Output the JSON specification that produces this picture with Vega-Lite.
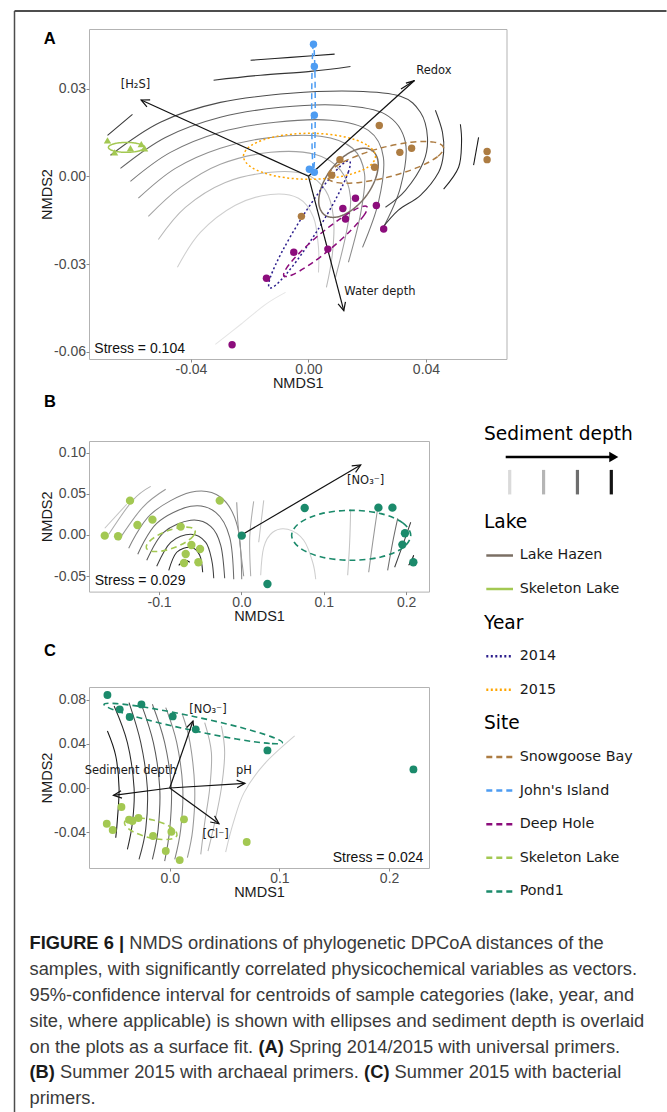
{
"$schema": "https://vega.github.io/schema/vega-lite/v6.json",
"background": "white",
"padding": {"left": 13, "top": 8, "right": 0, "bottom": 0},
"bounds": "flush",
"align": "each",
"columns": 2,
"spacing": {"row": 0, "column": 44.7},
"config": {
  "view": {"stroke": "#b3b3b3", "strokeWidth": 1},
  "axis": {"grid": false, "domain": false, "tickColor": "#8a8a8a", "tickSize": 3, "labelFont": "Liberation Sans", "labelFontSize": 14, "labelColor": "#4a4a4a", "labelPadding": 0.5, "labelFlush": false, "labelOverlap": false, "titleFont": "Liberation Sans", "titleFontSize": 14.5, "titleFontWeight": "normal", "titleColor": "#1a1a1a"},
  "axisX": {"titlePadding": 0, "minExtent": 17.6, "maxExtent": 17.6},
  "axisY": {"titlePadding": 1, "minExtent": 34, "maxExtent": 34},
  "title": {"font": "Liberation Sans", "fontSize": 16.5, "fontWeight": "bold", "anchor": "start", "frame": "group", "baseline": "alphabetic", "color": "#000000"}
},
"datasets": {
  "contA": [
    {"curve":"a0","level":0.5,"x":-0.0317,"y":-0.0575},{"curve":"a0","level":0.5,"x":-0.0231,"y":-0.0507},{"curve":"a0","level":0.5,"x":-0.0146,"y":-0.0438},{"curve":"a0","level":0.5,"x":-0.0078,"y":-0.0397},
    {"curve":"a1","level":1.5,"x":-0.0446,"y":-0.0311},{"curve":"a1","level":1.5,"x":-0.0368,"y":-0.0192},{"curve":"a1","level":1.5,"x":-0.0249,"y":-0.0099},{"curve":"a1","level":1.5,"x":-0.0129,"y":-0.0062},{"curve":"a1","level":1.5,"x":-0.0034,"y":-0.0075},{"curve":"a1","level":1.5,"x":0.0017,"y":-0.0140},{"curve":"a1","level":1.5,"x":0.0034,"y":-0.0243},{"curve":"a1","level":1.5,"x":0.0034,"y":-0.0329},
    {"curve":"a2","level":2.5,"x":-0.0511,"y":-0.0216},{"curve":"a2","level":2.5,"x":-0.0419,"y":-0.0106},{"curve":"a2","level":2.5,"x":-0.0283,"y":-0.0021},{"curve":"a2","level":2.5,"x":-0.0129,"y":0.0014},{"curve":"a2","level":2.5,"x":-0.0010,"y":0.0007},{"curve":"a2","level":2.5,"x":0.0058,"y":-0.0048},{"curve":"a2","level":2.5,"x":0.0085,"y":-0.0140},{"curve":"a2","level":2.5,"x":0.0082,"y":-0.0260},{"curve":"a2","level":2.5,"x":0.0061,"y":-0.0380},
    {"curve":"a3","level":3.5,"x":-0.0545,"y":-0.0137},{"curve":"a3","level":3.5,"x":-0.0436,"y":-0.0038},{"curve":"a3","level":3.5,"x":-0.0300,"y":0.0041},{"curve":"a3","level":3.5,"x":-0.0129,"y":0.0082},{"curve":"a3","level":3.5,"x":0.0024,"y":0.0075},{"curve":"a3","level":3.5,"x":0.0109,"y":0.0021},{"curve":"a3","level":3.5,"x":0.0143,"y":-0.0072},{"curve":"a3","level":3.5,"x":0.0129,"y":-0.0192},{"curve":"a3","level":3.5,"x":0.0092,"y":-0.0346},
    {"curve":"a4","level":4.5,"x":-0.0579,"y":-0.0075},{"curve":"a4","level":4.5,"x":-0.0453,"y":0.0027},{"curve":"a4","level":4.5,"x":-0.0300,"y":0.0096},{"curve":"a4","level":4.5,"x":-0.0129,"y":0.0133},{"curve":"a4","level":4.5,"x":0.0041,"y":0.0137},{"curve":"a4","level":4.5,"x":0.0150,"y":0.0096},{"curve":"a4","level":4.5,"x":0.0191,"y":0.0007},{"curve":"a4","level":4.5,"x":0.0177,"y":-0.0130},{"curve":"a4","level":4.5,"x":0.0136,"y":-0.0294},
    {"curve":"a5","level":5.5,"x":-0.0606,"y":-0.0017},{"curve":"a5","level":5.5,"x":-0.0470,"y":0.0082},{"curve":"a5","level":5.5,"x":-0.0300,"y":0.0151},{"curve":"a5","level":5.5,"x":-0.0112,"y":0.0185},{"curve":"a5","level":5.5,"x":0.0075,"y":0.0192},{"curve":"a5","level":5.5,"x":0.0204,"y":0.0157},{"curve":"a5","level":5.5,"x":0.0255,"y":0.0065},{"curve":"a5","level":5.5,"x":0.0238,"y":-0.0089},{"curve":"a5","level":5.5,"x":0.0184,"y":-0.0243},
    {"curve":"a6","level":6.5,"x":-0.0640,"y":0.0027},{"curve":"a6","level":6.5,"x":-0.0487,"y":0.0133},{"curve":"a6","level":6.5,"x":-0.0300,"y":0.0202},{"curve":"a6","level":6.5,"x":-0.0095,"y":0.0236},{"curve":"a6","level":6.5,"x":0.0109,"y":0.0243},{"curve":"a6","level":6.5,"x":0.0262,"y":0.0212},{"curve":"a6","level":6.5,"x":0.0330,"y":0.0116},{"curve":"a6","level":6.5,"x":0.0313,"y":-0.0038},{"curve":"a6","level":6.5,"x":0.0255,"y":-0.0175},
    {"curve":"a7","level":7.5,"x":-0.0674,"y":0.0072},{"curve":"a7","level":7.5,"x":-0.0504,"y":0.0185},{"curve":"a7","level":7.5,"x":-0.0300,"y":0.0253},{"curve":"a7","level":7.5,"x":-0.0061,"y":0.0284},{"curve":"a7","level":7.5,"x":0.0160,"y":0.0291},{"curve":"a7","level":7.5,"x":0.0313,"y":0.0274},{"curve":"a7","level":7.5,"x":0.0381,"y":0.0219},{"curve":"a7","level":7.5,"x":0.0405,"y":0.0133},{"curve":"a7","level":7.5,"x":0.0391,"y":0.0048},{"curve":"a7","level":7.5,"x":0.0330,"y":-0.0048},{"curve":"a7","level":7.5,"x":0.0262,"y":-0.0106},
    {"curve":"a8a","level":8.5,"x":-0.0684,"y":0.0140},{"curve":"a8a","level":8.5,"x":-0.0599,"y":0.0212},
    {"curve":"a8b","level":8.5,"x":-0.0323,"y":0.0329},{"curve":"a8b","level":8.5,"x":-0.0163,"y":0.0346},{"curve":"a8b","level":8.5,"x":0.0007,"y":0.0359},{"curve":"a8b","level":8.5,"x":0.0143,"y":0.0376},
    {"curve":"a8c","level":8.5,"x":0.0432,"y":0.0226},{"curve":"a8c","level":8.5,"x":0.0456,"y":0.0151},{"curve":"a8c","level":8.5,"x":0.0460,"y":0.0082},{"curve":"a8c","level":8.5,"x":0.0443,"y":0.0014},{"curve":"a8c","level":8.5,"x":0.0381,"y":-0.0065},{"curve":"a8c","level":8.5,"x":0.0306,"y":-0.0116},{"curve":"a8c","level":8.5,"x":0.0245,"y":-0.0185},
    {"curve":"a9a","level":9.3,"x":-0.0197,"y":0.0397},{"curve":"a9a","level":9.3,"x":-0.0061,"y":0.0407},{"curve":"a9a","level":9.3,"x":0.0089,"y":0.0418},
    {"curve":"a9b","level":9.3,"x":0.0517,"y":0.0178},{"curve":"a9b","level":9.3,"x":0.0521,"y":0.0116},{"curve":"a9b","level":9.3,"x":0.0511,"y":0.0031},{"curve":"a9b","level":9.3,"x":0.0460,"y":-0.0044},
    {"curve":"a10","level":10,"x":0.0579,"y":0.0133},{"curve":"a10","level":10,"x":0.0562,"y":0.0038}
  ],
  "ellA": [
    {"grp":"Lake Hazen","kind":"lake","x":0.02179,"y":0.00873},{"grp":"Lake Hazen","kind":"lake","x":0.02369,"y":0.00500},{"grp":"Lake Hazen","kind":"lake","x":0.02288,"y":-0.00065},{"grp":"Lake Hazen","kind":"lake","x":0.01961,"y":-0.00674},{"grp":"Lake Hazen","kind":"lake","x":0.01471,"y":-0.01160},{"grp":"Lake Hazen","kind":"lake","x":0.00953,"y":-0.01396},{"grp":"Lake Hazen","kind":"lake","x":0.00545,"y":-0.01318},{"grp":"Lake Hazen","kind":"lake","x":0.00354,"y":-0.00945},{"grp":"Lake Hazen","kind":"lake","x":0.00436,"y":-0.00380},{"grp":"Lake Hazen","kind":"lake","x":0.00763,"y":0.00229},{"grp":"Lake Hazen","kind":"lake","x":0.01253,"y":0.00715},{"grp":"Lake Hazen","kind":"lake","x":0.01770,"y":0.00951},
    {"grp":"Skeleton Lake","kind":"lake","x":-0.0559,"y":0.0099},{"grp":"Skeleton Lake","kind":"lake","x":-0.05672,"y":0.01075},{"grp":"Skeleton Lake","kind":"lake","x":-0.05895,"y":0.01137},{"grp":"Skeleton Lake","kind":"lake","x":-0.0620,"y":0.0116},{"grp":"Skeleton Lake","kind":"lake","x":-0.06505,"y":0.01137},{"grp":"Skeleton Lake","kind":"lake","x":-0.06728,"y":0.01075},{"grp":"Skeleton Lake","kind":"lake","x":-0.0681,"y":0.0099},{"grp":"Skeleton Lake","kind":"lake","x":-0.06728,"y":0.00905},{"grp":"Skeleton Lake","kind":"lake","x":-0.06505,"y":0.00843},{"grp":"Skeleton Lake","kind":"lake","x":-0.0620,"y":0.0082},{"grp":"Skeleton Lake","kind":"lake","x":-0.05895,"y":0.00843},{"grp":"Skeleton Lake","kind":"lake","x":-0.05672,"y":0.00905},
    {"grp":"2014","kind":"year","x":0.01396,"y":0.00530},{"grp":"2014","kind":"year","x":0.01358,"y":0.00147},{"grp":"2014","kind":"year","x":0.00963,"y":-0.00715},{"grp":"2014","kind":"year","x":0.00323,"y":-0.01824},{"grp":"2014","kind":"year","x":-0.00398,"y":-0.02888},{"grp":"2014","kind":"year","x":-0.01001,"y":-0.03617},{"grp":"2014","kind":"year","x":-0.01328,"y":-0.03816},{"grp":"2014","kind":"year","x":-0.01290,"y":-0.03433},{"grp":"2014","kind":"year","x":-0.00895,"y":-0.02570},{"grp":"2014","kind":"year","x":-0.00255,"y":-0.01461},{"grp":"2014","kind":"year","x":0.00466,"y":-0.00397},{"grp":"2014","kind":"year","x":0.01069,"y":0.00332},
    {"grp":"2015","kind":"year","x":0.02281,"y":0.00684},{"grp":"2015","kind":"year","x":0.01981,"y":0.01078},{"grp":"2015","kind":"year","x":0.01157,"y":0.01366},{"grp":"2015","kind":"year","x":0.00034,"y":0.01472},{"grp":"2015","kind":"year","x":-0.01089,"y":0.01366},{"grp":"2015","kind":"year","x":-0.01913,"y":0.01078},{"grp":"2015","kind":"year","x":-0.02213,"y":0.00684},{"grp":"2015","kind":"year","x":-0.01913,"y":0.00291},{"grp":"2015","kind":"year","x":-0.01089,"y":0.00003},{"grp":"2015","kind":"year","x":0.00034,"y":-0.00103},{"grp":"2015","kind":"year","x":0.01157,"y":0.00003},{"grp":"2015","kind":"year","x":0.01981,"y":0.00291},
    {"grp":"Snowgoose Bay","kind":"site","x":0.04596,"y":0.00992},{"grp":"Snowgoose Bay","kind":"site","x":0.04395,"y":0.00674},{"grp":"Snowgoose Bay","kind":"site","x":0.03721,"y":0.00305},{"grp":"Snowgoose Bay","kind":"site","x":0.02751,"y":-0.00017},{"grp":"Snowgoose Bay","kind":"site","x":0.01746,"y":-0.00209},{"grp":"Snowgoose Bay","kind":"site","x":0.00977,"y":-0.00216},{"grp":"Snowgoose Bay","kind":"site","x":0.00647,"y":-0.00034},{"grp":"Snowgoose Bay","kind":"site","x":0.00848,"y":0.00281},{"grp":"Snowgoose Bay","kind":"site","x":0.01525,"y":0.00650},{"grp":"Snowgoose Bay","kind":"site","x":0.02495,"y":0.00975},{"grp":"Snowgoose Bay","kind":"site","x":0.03500,"y":0.01167},{"grp":"Snowgoose Bay","kind":"site","x":0.04266,"y":0.01170},
    {"grp":"John's Island","kind":"site","x":0.0023,"y":0.0235},{"grp":"John's Island","kind":"site","x":0.00222,"y":0.03425},{"grp":"John's Island","kind":"site","x":0.0020,"y":0.04212},{"grp":"John's Island","kind":"site","x":0.0017,"y":0.0450},{"grp":"John's Island","kind":"site","x":0.0014,"y":0.04212},{"grp":"John's Island","kind":"site","x":0.00118,"y":0.03425},{"grp":"John's Island","kind":"site","x":0.0011,"y":0.0235},{"grp":"John's Island","kind":"site","x":0.00118,"y":0.01275},{"grp":"John's Island","kind":"site","x":0.0014,"y":0.00488},{"grp":"John's Island","kind":"site","x":0.0017,"y":0.0020},{"grp":"John's Island","kind":"site","x":0.0020,"y":0.00488},{"grp":"John's Island","kind":"site","x":0.00222,"y":0.01275},
    {"grp":"Deep Hole","kind":"site","x":0.01991,"y":-0.01040},{"grp":"Deep Hole","kind":"site","x":0.01900,"y":-0.01318},{"grp":"Deep Hole","kind":"site","x":0.01454,"y":-0.01838},{"grp":"Deep Hole","kind":"site","x":0.00776,"y":-0.02461},{"grp":"Deep Hole","kind":"site","x":0.00041,"y":-0.03022},{"grp":"Deep Hole","kind":"site","x":-0.00545,"y":-0.03368},{"grp":"Deep Hole","kind":"site","x":-0.00834,"y":-0.03409},{"grp":"Deep Hole","kind":"site","x":-0.00742,"y":-0.03131},{"grp":"Deep Hole","kind":"site","x":-0.00296,"y":-0.02611},{"grp":"Deep Hole","kind":"site","x":0.00381,"y":-0.01988},{"grp":"Deep Hole","kind":"site","x":0.01117,"y":-0.01427},{"grp":"Deep Hole","kind":"site","x":0.01702,"y":-0.01081}
  ],
  "arrA": [
    {"vec":"H2S","part":"shaft","x":0,"y":0},{"vec":"H2S","part":"shaft","x":-0.05695,"y":0.02611},
    {"vec":"H2S","part":"head","x":-0.05498,"y":0.02379},{"vec":"H2S","part":"head","x":-0.05695,"y":0.02611},{"vec":"H2S","part":"head","x":-0.05389,"y":0.02615},
    {"vec":"Redox","part":"shaft","x":0,"y":0},{"vec":"Redox","part":"shaft","x":0.03609,"y":0.03276},
    {"vec":"Redox","part":"head","x":0.03316,"y":0.03186},{"vec":"Redox","part":"head","x":0.03609,"y":0.03276},{"vec":"Redox","part":"head","x":0.03149,"y":0.02991},
    {"vec":"Water","part":"shaft","x":0,"y":0},{"vec":"Water","part":"shaft","x":0.01202,"y":-0.04596},
    {"vec":"Water","part":"head","x":0.01258,"y":-0.04295},{"vec":"Water","part":"head","x":0.01202,"y":-0.04596},{"vec":"Water","part":"head","x":0.01008,"y":-0.04361}
  ],
  "ptsA": [
    {"site":"John's Island","x":0.0017,"y":0.0452},{"site":"John's Island","x":0.0020,"y":0.0376},{"site":"John's Island","x":0.0020,"y":0.0209},{"site":"John's Island","x":0.0003,"y":0.0024},{"site":"John's Island","x":0.0020,"y":0.0014},
    {"site":"Snowgoose Bay","x":0.0241,"y":0.0174},{"site":"Snowgoose Bay","x":0.0311,"y":0.0082},{"site":"Snowgoose Bay","x":0.0351,"y":0.0096},{"site":"Snowgoose Bay","x":0.0608,"y":0.0085},{"site":"Snowgoose Bay","x":0.0608,"y":0.0057},{"site":"Snowgoose Bay","x":0.0107,"y":0.0057},{"site":"Snowgoose Bay","x":0.0225,"y":0.0031},{"site":"Snowgoose Bay","x":0.0079,"y":0.0004},{"site":"Snowgoose Bay","x":-0.0024,"y":-0.0137},
    {"site":"Deep Hole","x":0.0160,"y":-0.0075},{"site":"Deep Hole","x":0.0117,"y":-0.0110},{"site":"Deep Hole","x":0.0126,"y":-0.0146},{"site":"Deep Hole","x":0.0231,"y":-0.0100},{"site":"Deep Hole","x":0.0256,"y":-0.0180},{"site":"Deep Hole","x":-0.0050,"y":-0.0260},{"site":"Deep Hole","x":0.0066,"y":-0.0249},{"site":"Deep Hole","x":-0.0143,"y":-0.0349},{"site":"Deep Hole","x":-0.0260,"y":-0.0576},
    {"site":"Skeleton Lake","x":-0.0684,"y":0.0123},{"site":"Skeleton Lake","x":-0.0660,"y":0.0082},{"site":"Skeleton Lake","x":-0.0606,"y":0.0096},{"site":"Skeleton Lake","x":-0.0569,"y":0.0110},{"site":"Skeleton Lake","x":-0.0558,"y":0.0096}
  ],
  "labA": [
    {"label":"[H₂S]","x":-0.0589,"y":0.0312},{"label":"Redox","x":0.0427,"y":0.0362},{"label":"Water depth","x":0.0243,"y":-0.0397}
  ],
  "stressA": [{"label":"Stress = 0.104","x":-0.0729,"y":-0.0591}],
  "contB": [
    {"curve":"b1","level":10,"x":-0.0761,"y":-0.0369},{"curve":"b1","level":10,"x":-0.0688,"y":-0.0308},{"curve":"b1","level":10,"x":-0.0627,"y":-0.0332},
    {"curve":"b2","level":9,"x":-0.0882,"y":-0.0430},{"curve":"b2","level":9,"x":-0.0785,"y":-0.0210},{"curve":"b2","level":9,"x":-0.0615,"y":-0.0150},{"curve":"b2","level":9,"x":-0.0506,"y":-0.0247},{"curve":"b2","level":9,"x":-0.0470,"y":-0.0454},
    {"curve":"b3","level":8,"x":-0.1028,"y":-0.0381},{"curve":"b3","level":8,"x":-0.0858,"y":-0.0089},{"curve":"b3","level":8,"x":-0.0615,"y":0.0009},{"curve":"b3","level":8,"x":-0.0433,"y":-0.0089},{"curve":"b3","level":8,"x":-0.0360,"y":-0.0308},{"curve":"b3","level":8,"x":-0.0336,"y":-0.0527},
    {"curve":"b4","level":7,"x":-0.1149,"y":-0.0308},{"curve":"b4","level":7,"x":-0.0943,"y":0.0033},{"curve":"b4","level":7,"x":-0.0615,"y":0.0179},{"curve":"b4","level":7,"x":-0.0373,"y":0.0106},{"curve":"b4","level":7,"x":-0.0251,"y":-0.0125},{"curve":"b4","level":7,"x":-0.0203,"y":-0.0527},
    {"curve":"b5","level":6,"x":-0.1258,"y":-0.0235},{"curve":"b5","level":6,"x":-0.1028,"y":0.0142},{"curve":"b5","level":6,"x":-0.0615,"y":0.0349},{"curve":"b5","level":6,"x":-0.0312,"y":0.0276},{"curve":"b5","level":6,"x":-0.0142,"y":-0.0028},{"curve":"b5","level":6,"x":-0.0093,"y":-0.0539},
    {"curve":"b6","level":5,"x":-0.1368,"y":-0.0162},{"curve":"b6","level":5,"x":-0.1101,"y":0.0252},{"curve":"b6","level":5,"x":-0.0615,"y":0.0519},{"curve":"b6","level":5,"x":-0.0251,"y":0.0459},{"curve":"b6","level":5,"x":-0.0045,"y":0.0094},{"curve":"b6","level":5,"x":0.0004,"y":-0.0539},
    {"curve":"b7","level":4,"x":-0.1489,"y":-0.0064},{"curve":"b7","level":4,"x":-0.1198,"y":0.0337},{"curve":"b7","level":4,"x":-0.0919,"y":0.0556},
    {"curve":"b8","level":3,"x":-0.1610,"y":0.0009},{"curve":"b8","level":3,"x":-0.1319,"y":0.0422},{"curve":"b8","level":3,"x":-0.1101,"y":0.0592},
    {"curve":"b9","level":2,"x":-0.1659,"y":0.0082},{"curve":"b9","level":2,"x":-0.1392,"y":0.0374},
    {"curve":"v1","level":4,"x":-0.0057,"y":0.0398},{"curve":"v1","level":4,"x":-0.0033,"y":0.0033},{"curve":"v1","level":4,"x":0.0028,"y":-0.0502},
    {"curve":"v2","level":3,"x":0.0149,"y":0.0410},{"curve":"v2","level":3,"x":0.0101,"y":-0.0028},{"curve":"v2","level":3,"x":0.0113,"y":-0.0502},
    {"curve":"v3","level":2,"x":0.0271,"y":0.0422},{"curve":"v3","level":2,"x":0.0210,"y":-0.0089},
    {"curve":"u1","level":1.5,"x":0.0234,"y":-0.0490},{"curve":"u1","level":1.5,"x":0.0271,"y":-0.0150},{"curve":"u1","level":1.5,"x":0.0380,"y":0.0033},{"curve":"u1","level":1.5,"x":0.0562,"y":0.0069},{"curve":"u1","level":1.5,"x":0.0756,"y":-0.0064},{"curve":"u1","level":1.5,"x":0.0865,"y":-0.0332},{"curve":"u1","level":1.5,"x":0.0902,"y":-0.0539},
    {"curve":"r1","level":2,"x":0.1290,"y":-0.0490},{"curve":"r1","level":2,"x":0.1314,"y":-0.0089},{"curve":"r1","level":2,"x":0.1326,"y":0.0313},
    {"curve":"r2","level":4,"x":0.1545,"y":-0.0454},{"curve":"r2","level":4,"x":0.1594,"y":-0.0089},{"curve":"r2","level":4,"x":0.1654,"y":0.0325},
    {"curve":"r3","level":6,"x":0.1775,"y":-0.0430},{"curve":"r3","level":6,"x":0.1836,"y":-0.0089},{"curve":"r3","level":6,"x":0.1897,"y":0.0203},
    {"curve":"r4","level":8,"x":0.1860,"y":-0.0393},{"curve":"r4","level":8,"x":0.1970,"y":-0.0089},{"curve":"r4","level":8,"x":0.2055,"y":0.0155},
    {"curve":"r5","level":10,"x":0.2030,"y":-0.0369},{"curve":"r5","level":10,"x":0.2067,"y":-0.0308},{"curve":"r5","level":10,"x":0.2091,"y":-0.0247}
  ],
  "ellB": [
    {"grp":"Skeleton Lake","kind":"site","x":-0.0562,"y":0.0055},{"grp":"Skeleton Lake","kind":"site","x":-0.0584,"y":-0.0011},{"grp":"Skeleton Lake","kind":"site","x":-0.0677,"y":-0.0088},{"grp":"Skeleton Lake","kind":"site","x":-0.0820,"y":-0.0156},{"grp":"Skeleton Lake","kind":"site","x":-0.0973,"y":-0.0196},{"grp":"Skeleton Lake","kind":"site","x":-0.1096,"y":-0.0197},{"grp":"Skeleton Lake","kind":"site","x":-0.1154,"y":-0.0159},{"grp":"Skeleton Lake","kind":"site","x":-0.1132,"y":-0.0094},{"grp":"Skeleton Lake","kind":"site","x":-0.1038,"y":-0.0017},{"grp":"Skeleton Lake","kind":"site","x":-0.0896,"y":0.0051},{"grp":"Skeleton Lake","kind":"site","x":-0.0742,"y":0.0090},{"grp":"Skeleton Lake","kind":"site","x":-0.0620,"y":0.0092},
    {"grp":"Pond1","kind":"site","x":0.2055,"y":-0.0004},{"grp":"Pond1","kind":"site","x":0.1958,"y":0.0148},{"grp":"Pond1","kind":"site","x":0.1694,"y":0.0260},{"grp":"Pond1","kind":"site","x":0.1333,"y":0.0300},{"grp":"Pond1","kind":"site","x":0.0972,"y":0.0260},{"grp":"Pond1","kind":"site","x":0.0708,"y":0.0148},{"grp":"Pond1","kind":"site","x":0.0610,"y":-0.0004},{"grp":"Pond1","kind":"site","x":0.0708,"y":-0.0156},{"grp":"Pond1","kind":"site","x":0.0972,"y":-0.0268},{"grp":"Pond1","kind":"site","x":0.1333,"y":-0.0308},{"grp":"Pond1","kind":"site","x":0.1694,"y":-0.0268},{"grp":"Pond1","kind":"site","x":0.1958,"y":-0.0156}
  ],
  "arrB": [
    {"vec":"NO3","part":"shaft","x":0,"y":0},{"vec":"NO3","part":"shaft","x":0.1448,"y":0.0852},
    {"vec":"NO3","part":"head","x":0.1339,"y":0.0841},{"vec":"NO3","part":"head","x":0.1448,"y":0.0852},{"vec":"NO3","part":"head","x":0.1386,"y":0.0762}
  ],
  "ptsB": [
    {"site":"Skeleton Lake","x":-0.1659,"y":-0.0008},{"site":"Skeleton Lake","x":-0.1497,"y":-0.0016},{"site":"Skeleton Lake","x":-0.1352,"y":0.0418},{"site":"Skeleton Lake","x":-0.1262,"y":0.0122},{"site":"Skeleton Lake","x":-0.1080,"y":0.0187},{"site":"Skeleton Lake","x":-0.0737,"y":0.0102},{"site":"Skeleton Lake","x":-0.0263,"y":0.0418},{"site":"Skeleton Lake","x":-0.0607,"y":-0.0122},{"site":"Skeleton Lake","x":-0.0502,"y":-0.0170},{"site":"Skeleton Lake","x":-0.0676,"y":-0.0231},{"site":"Skeleton Lake","x":-0.0697,"y":-0.0341},{"site":"Skeleton Lake","x":-0.0522,"y":-0.0332},
    {"site":"Pond1","x":0.0004,"y":-0.0008},{"site":"Pond1","x":0.0768,"y":0.0329},{"site":"Pond1","x":0.1663,"y":0.0333},{"site":"Pond1","x":0.1833,"y":0.0333},{"site":"Pond1","x":0.1985,"y":0.0021},{"site":"Pond1","x":0.1954,"y":-0.0117},{"site":"Pond1","x":0.2087,"y":-0.0332},{"site":"Pond1","x":0.0316,"y":-0.0596}
  ],
  "labB": [{"label":"[NO₃⁻]","x":0.1508,"y":0.0662}],
  "stressB": [{"label":"Stress = 0.029","x":-0.1780,"y":-0.0563}],
  "contC": [
    {"curve":"c1","level":10,"x":-0.0568,"y":0.0518},{"curve":"c1","level":10,"x":-0.0492,"y":0.0291},{"curve":"c1","level":10,"x":-0.0462,"y":0},{"curve":"c1","level":10,"x":-0.0477,"y":-0.0285},{"curve":"c1","level":10,"x":-0.0492,"y":-0.0452},
    {"curve":"c2","level":9,"x":-0.0507,"y":0.0745},{"curve":"c2","level":9,"x":-0.0386,"y":0.0412},{"curve":"c2","level":9,"x":-0.0325,"y":0},{"curve":"c2","level":9,"x":-0.0340,"y":-0.0315},{"curve":"c2","level":9,"x":-0.0386,"y":-0.0558},
    {"curve":"c3","level":8,"x":-0.0371,"y":0.0776},{"curve":"c3","level":8,"x":-0.0264,"y":0.0412},{"curve":"c3","level":8,"x":-0.0204,"y":0},{"curve":"c3","level":8,"x":-0.0219,"y":-0.0376},{"curve":"c3","level":8,"x":-0.0280,"y":-0.0648},
    {"curve":"c4","level":7,"x":-0.0264,"y":0.0776},{"curve":"c4","level":7,"x":-0.0149,"y":0.0412},{"curve":"c4","level":7,"x":-0.0091,"y":0},{"curve":"c4","level":7,"x":-0.0106,"y":-0.0376},{"curve":"c4","level":7,"x":-0.0158,"y":-0.0648},
    {"curve":"c5","level":6,"x":-0.0158,"y":0.0761},{"curve":"c5","level":6,"x":-0.0046,"y":0.0412},{"curve":"c5","level":6,"x":0.0015,"y":0},{"curve":"c5","level":6,"x":0.0000,"y":-0.0376},{"curve":"c5","level":6,"x":-0.0046,"y":-0.0664},
    {"curve":"c6","level":5,"x":-0.0036,"y":0.0730},{"curve":"c6","level":5,"x":0.0064,"y":0.0412},{"curve":"c6","level":5,"x":0.0119,"y":0},{"curve":"c6","level":5,"x":0.0100,"y":-0.0376},{"curve":"c6","level":5,"x":0.0046,"y":-0.0648},
    {"curve":"c7","level":4,"x":0.0115,"y":0.0670},{"curve":"c7","level":4,"x":0.0185,"y":0.0412},{"curve":"c7","level":4,"x":0.0228,"y":0},{"curve":"c7","level":4,"x":0.0210,"y":-0.0376},{"curve":"c7","level":4,"x":0.0161,"y":-0.0633},
    {"curve":"c8","level":3,"x":0.0319,"y":0.0594},{"curve":"c8","level":3,"x":0.0380,"y":0.0321},{"curve":"c8","level":3,"x":0.0365,"y":0},{"curve":"c8","level":3,"x":0.0319,"y":-0.0315},{"curve":"c8","level":3,"x":0.0283,"y":-0.0603},
    {"curve":"c9","level":2.5,"x":0.0471,"y":0.0564},{"curve":"c9","level":2.5,"x":0.0501,"y":0.0321},{"curve":"c9","level":2.5,"x":0.0471,"y":0},{"curve":"c9","level":2.5,"x":0.0410,"y":-0.0315},{"curve":"c9","level":2.5,"x":0.0349,"y":-0.0573},
    {"curve":"c10","level":1.5,"x":0.1139,"y":0.0473},{"curve":"c10","level":1.5,"x":0.0860,"y":0.0215},{"curve":"c10","level":1.5,"x":0.0678,"y":-0.0042},{"curve":"c10","level":1.5,"x":0.0580,"y":-0.0315},{"curve":"c10","level":1.5,"x":0.0510,"y":-0.0582}
  ],
  "ellC": [
    {"grp":"Pond1","kind":"site","x":0.1027,"y":0.0413},{"grp":"Pond1","kind":"site","x":0.0912,"y":0.0405},{"grp":"Pond1","kind":"site","x":0.0609,"y":0.0445},{"grp":"Pond1","kind":"site","x":0.0201,"y":0.0525},{"grp":"Pond1","kind":"site","x":-0.0204,"y":0.0619},{"grp":"Pond1","kind":"site","x":-0.0496,"y":0.0705},{"grp":"Pond1","kind":"site","x":-0.0599,"y":0.0760},{"grp":"Pond1","kind":"site","x":-0.0483,"y":0.0767},{"grp":"Pond1","kind":"site","x":-0.0180,"y":0.0727},{"grp":"Pond1","kind":"site","x":0.0228,"y":0.0648},{"grp":"Pond1","kind":"site","x":0.0633,"y":0.0554},{"grp":"Pond1","kind":"site","x":0.0924,"y":0.0467},
    {"grp":"Skeleton Lake","kind":"site","x":0.0066,"y":-0.0429},{"grp":"Skeleton Lake","kind":"site","x":0.0024,"y":-0.0461},{"grp":"Skeleton Lake","kind":"site","x":-0.0071,"y":-0.0468},{"grp":"Skeleton Lake","kind":"site","x":-0.0193,"y":-0.0449},{"grp":"Skeleton Lake","kind":"site","x":-0.0310,"y":-0.0409},{"grp":"Skeleton Lake","kind":"site","x":-0.0390,"y":-0.0359},{"grp":"Skeleton Lake","kind":"site","x":-0.0412,"y":-0.0311},{"grp":"Skeleton Lake","kind":"site","x":-0.0370,"y":-0.0279},{"grp":"Skeleton Lake","kind":"site","x":-0.0275,"y":-0.0272},{"grp":"Skeleton Lake","kind":"site","x":-0.0153,"y":-0.0291},{"grp":"Skeleton Lake","kind":"site","x":-0.0036,"y":-0.0331},{"grp":"Skeleton Lake","kind":"site","x":0.0044,"y":-0.0381}
  ],
  "arrC": [
    {"vec":"NO3","part":"shaft","x":0,"y":0},{"vec":"NO3","part":"shaft","x":0.0212,"y":0.0609},
    {"vec":"NO3","part":"head","x":0.0155,"y":0.0550},{"vec":"NO3","part":"head","x":0.0212,"y":0.0609},{"vec":"NO3","part":"head","x":0.0221,"y":0.0527},
    {"vec":"pH","part":"shaft","x":0,"y":0},{"vec":"pH","part":"shaft","x":0.0686,"y":0.0042},
    {"vec":"pH","part":"head","x":0.0610,"y":0.0072},{"vec":"pH","part":"head","x":0.0686,"y":0.0042},{"vec":"pH","part":"head","x":0.0615,"y":0.0003},
    {"vec":"Cl","part":"shaft","x":0,"y":0},{"vec":"Cl","part":"shaft","x":0.0449,"y":-0.0325},
    {"vec":"Cl","part":"head","x":0.0409,"y":-0.0253},{"vec":"Cl","part":"head","x":0.0449,"y":-0.0325},{"vec":"Cl","part":"head","x":0.0369,"y":-0.0309},
    {"vec":"Sed","part":"shaft","x":0,"y":0},{"vec":"Sed","part":"shaft","x":-0.0513,"y":-0.0067},
    {"vec":"Sed","part":"head","x":-0.0435,"y":-0.0092},{"vec":"Sed","part":"head","x":-0.0513,"y":-0.0067},{"vec":"Sed","part":"head","x":-0.0444,"y":-0.0024}
  ],
  "ptsC": [
    {"site":"Pond1","x":-0.0568,"y":0.0845},{"site":"Pond1","x":-0.0456,"y":0.0715},{"site":"Pond1","x":-0.0365,"y":0.0645},{"site":"Pond1","x":-0.0258,"y":0.0760},{"site":"Pond1","x":0.0027,"y":0.0651},{"site":"Pond1","x":0.0237,"y":0.0533},{"site":"Pond1","x":0.0891,"y":0.0342},{"site":"Pond1","x":0.2222,"y":0.0169},
    {"site":"Skeleton Lake","x":-0.0440,"y":-0.0173},{"site":"Skeleton Lake","x":-0.0574,"y":-0.0325},{"site":"Skeleton Lake","x":-0.0520,"y":-0.0382},{"site":"Skeleton Lake","x":-0.0371,"y":-0.0288},{"site":"Skeleton Lake","x":-0.0340,"y":-0.0300},{"site":"Skeleton Lake","x":-0.0285,"y":-0.0273},{"site":"Skeleton Lake","x":0.0130,"y":-0.0285},{"site":"Skeleton Lake","x":-0.0152,"y":-0.0436},{"site":"Skeleton Lake","x":0.0015,"y":-0.0397},{"site":"Skeleton Lake","x":-0.0036,"y":-0.0573},{"site":"Skeleton Lake","x":0.0091,"y":-0.0655},{"site":"Skeleton Lake","x":0.0702,"y":-0.0491}
  ],
  "labC": [
    {"label":"[NO₃⁻]","x":0.0349,"y":0.0709},{"label":"pH","x":0.0677,"y":0.0155},{"label":"[Cl⁻]","x":0.0419,"y":-0.0431},{"label":"Sediment depth","x":-0.0356,"y":0.0155}
  ],
  "stressC": [{"label":"Stress = 0.024","x":0.2313,"y":-0.0634}],
  "legend": [
    {"role":"title","label":"Sediment depth"},
    {"role":"title","label":"Lake","row":0},
    {"role":"entry","kind":"lake","key":"Lake Hazen","label":"Lake Hazen","row":1},
    {"role":"entry","kind":"lake","key":"Skeleton Lake","label":"Skeleton Lake","row":2},
    {"role":"title","label":"Year","row":3},
    {"role":"entry","kind":"year","key":"2014","label":"2014","row":4},
    {"role":"entry","kind":"year","key":"2015","label":"2015","row":5},
    {"role":"title","label":"Site","row":6},
    {"role":"entry","kind":"site","key":"Snowgoose Bay","label":"Snowgoose Bay","row":7},
    {"role":"entry","kind":"site","key":"John's Island","label":"John's Island","row":8},
    {"role":"entry","kind":"site","key":"Deep Hole","label":"Deep Hole","row":9},
    {"role":"entry","kind":"site","key":"Skeleton Lake","label":"Skeleton Lake","row":10},
    {"role":"entry","kind":"site","key":"Pond1","label":"Pond1","row":11},
    {"role":"bar","slot":1,"level":1},
    {"role":"bar","slot":2,"level":2.7},
    {"role":"bar","slot":3,"level":5.9},
    {"role":"bar","slot":4,"level":10}
  ],
  "caption": [
    {"line":0,"slot":"fig","text":"FIGURE 6 |"},
    {"line":0,"slot":"afterFig","text":"NMDS ordinations of phylogenetic DPCoA distances of the"},
    {"line":1,"slot":"main","text":"samples, with significantly correlated physicochemical variables as vectors."},
    {"line":2,"slot":"main","text":"95%-confidence interval for centroids of sample categories (lake, year, and"},
    {"line":3,"slot":"main","text":"site, where applicable) is shown with ellipses and sediment depth is overlaid"},
    {"line":4,"slot":"main","text":"on the plots as a surface fit."},
    {"line":4,"slot":"A","text":"(A)"},
    {"line":4,"slot":"afterA","text":"Spring 2014/2015 with universal primers."},
    {"line":5,"slot":"B","text":"(B)"},
    {"line":5,"slot":"afterB","text":"Summer 2015 with archaeal primers."},
    {"line":5,"slot":"C","text":"(C)"},
    {"line":5,"slot":"afterC","text":"Summer 2015 with bacterial"},
    {"line":6,"slot":"main","text":"primers."}
  ]
},
"concat": [
  {
    "width": 417.5, "height": 17.7, "view": {"stroke": null},
    "data": {"values": [{"edge": "frame"}]},
    "layer": [
      {"mark": {"type": "rule", "color": "#4d4d4d", "strokeWidth": 2},
       "encoding": {"x": {"datum": 14, "type": "quantitative", "scale": {"domain": [88.5, 506], "nice": false, "zero": false}, "axis": null}, "x2": {"datum": 666}, "y": {"datum": 9, "type": "quantitative", "scale": {"domain": [9, 26.7], "reverse": true, "nice": false, "zero": false}, "axis": null}}},
      {"mark": {"type": "rule", "color": "#4d4d4d", "strokeWidth": 1.5},
       "encoding": {"x": {"datum": 14, "type": "quantitative", "scale": {"domain": [88.5, 506], "nice": false, "zero": false}, "axis": null}, "y": {"datum": 9, "type": "quantitative", "scale": {"domain": [9, 26.7], "reverse": true, "nice": false, "zero": false}, "axis": null}, "y2": {"datum": 1112}}}
    ]
  },
  {"width": 1, "height": 1, "view": {"stroke": null}, "data": {"values": [{"spacer": 1}]}, "mark": {"type": "point", "opacity": 0}, "encoding": {}},
  {
    "width": 417.5, "height": 330,
    "title": {"text": "A", "dx": -45.2, "offset": -18.3},
    "encoding": {
      "x": {"field": "x", "type": "quantitative", "scale": {"domain": [-0.0747, 0.0674], "nice": false, "zero": false}, "axis": {"title": "NMDS1", "values": [-0.04, 0, 0.04], "format": ".2f", "labelExpr": "replace(datum.label, '−', '-')"}},
      "y": {"field": "y", "type": "quantitative", "scale": {"domain": [-0.0625, 0.0504], "nice": false, "zero": false}, "axis": {"title": "NMDS2", "values": [-0.06, -0.03, 0, 0.03], "format": ".2f", "labelExpr": "replace(datum.label, '−', '-')"}}
    },
    "layer": [
      {"data": {"name": "contA"}, "mark": {"type": "line", "interpolate": "cardinal", "strokeWidth": 1.05},
       "encoding": {"stroke": {"field": "level", "type": "quantitative", "scale": {"domain": [0, 10], "range": ["#f0f0f0", "#141414"], "interpolate": "rgb"}, "legend": null}, "detail": {"field": "curve"}, "order": {"value": null}}},
      {"data": {"name": "ellA"}, "mark": {"type": "line", "interpolate": "cardinal-closed", "strokeWidth": 1.5},
       "encoding": {"color": {"field": "grp", "type": "nominal", "scale": {"domain": ["Lake Hazen","Skeleton Lake","2014","2015","Snowgoose Bay","John's Island","Deep Hole","Pond1"], "range": ["#7b6f64","#a3c852","#2b1d8c","#ffa500","#ad7c42","#4d9cf2","#8c0d7c","#1b8a6b"]}, "legend": null}, "strokeDash": {"field": "kind", "type": "nominal", "scale": {"domain": ["lake","year","site"], "range": [[1,0],[2,2.5],[6,4]]}, "legend": null}, "detail": {"field": "grp"}, "order": {"value": null}}},
      {"data": {"name": "arrA"}, "mark": {"type": "line", "color": "#111111", "strokeWidth": 1.2},
       "encoding": {"detail": [{"field": "vec"}, {"field": "part"}], "order": {"value": null}}},
      {"data": {"name": "ptsA"}, "mark": {"type": "point", "filled": true, "size": 55, "opacity": 1},
       "encoding": {"color": {"field": "site", "type": "nominal", "scale": {"domain": ["Lake Hazen","Skeleton Lake","2014","2015","Snowgoose Bay","John's Island","Deep Hole","Pond1"], "range": ["#7b6f64","#a3c852","#2b1d8c","#ffa500","#ad7c42","#4d9cf2","#8c0d7c","#1b8a6b"]}, "legend": null}, "shape": {"field": "site", "type": "nominal", "scale": {"domain": ["Snowgoose Bay","John's Island","Deep Hole","Skeleton Lake"], "range": ["circle","circle","circle","triangle-up"]}, "legend": null}}},
      {"data": {"name": "labA"}, "mark": {"type": "text", "font": "DejaVu Sans", "fontSize": 11.5, "color": "#1a1a1a"},
       "encoding": {"text": {"field": "label"}}},
      {"data": {"name": "stressA"}, "mark": {"type": "text", "font": "Liberation Sans", "fontSize": 14, "align": "left", "color": "#111111"},
       "encoding": {"text": {"field": "label"}}}
    ]
  },
  {"width": 1, "height": 1, "view": {"stroke": null}, "data": {"values": [{"spacer": 1}]}, "mark": {"type": "point", "opacity": 0}, "encoding": {}},
  {"width": 1, "height": 82, "view": {"stroke": null}, "data": {"values": [{"spacer": 1}]}, "mark": {"type": "point", "opacity": 0}, "encoding": {}},
  {"width": 1, "height": 1, "view": {"stroke": null}, "data": {"values": [{"spacer": 1}]}, "mark": {"type": "point", "opacity": 0}, "encoding": {}},
  {
    "width": 340, "height": 150.6,
    "title": {"text": "B", "dx": -45, "offset": 30.4},
    "encoding": {
      "x": {"field": "x", "type": "quantitative", "scale": {"domain": [-0.185, 0.2277], "nice": false, "zero": false}, "axis": {"title": "NMDS1", "values": [-0.1, 0, 0.1, 0.2], "format": ".1f", "labelExpr": "replace(datum.label, '−', '-')"}},
      "y": {"field": "y", "type": "quantitative", "scale": {"domain": [-0.0689, 0.1144], "nice": false, "zero": false}, "axis": {"title": "NMDS2", "values": [-0.05, 0, 0.05, 0.1], "format": ".2f", "labelExpr": "replace(datum.label, '−', '-')"}}
    },
    "layer": [
      {"data": {"name": "contB"}, "mark": {"type": "line", "interpolate": "cardinal", "strokeWidth": 1.05},
       "encoding": {"stroke": {"field": "level", "type": "quantitative", "scale": {"domain": [0, 10], "range": ["#f0f0f0", "#141414"], "interpolate": "rgb"}, "legend": null}, "detail": {"field": "curve"}, "order": {"value": null}}},
      {"data": {"name": "ellB"}, "mark": {"type": "line", "interpolate": "cardinal-closed", "strokeWidth": 1.6},
       "encoding": {"color": {"field": "grp", "type": "nominal", "scale": {"domain": ["Lake Hazen","Skeleton Lake","2014","2015","Snowgoose Bay","John's Island","Deep Hole","Pond1"], "range": ["#7b6f64","#a3c852","#2b1d8c","#ffa500","#ad7c42","#4d9cf2","#8c0d7c","#1b8a6b"]}, "legend": null}, "strokeDash": {"field": "kind", "type": "nominal", "scale": {"domain": ["lake","year","site"], "range": [[1,0],[2,2.5],[6,4]]}, "legend": null}, "detail": {"field": "grp"}, "order": {"value": null}}},
      {"data": {"name": "arrB"}, "mark": {"type": "line", "color": "#111111", "strokeWidth": 1.2},
       "encoding": {"detail": [{"field": "vec"}, {"field": "part"}], "order": {"value": null}}},
      {"data": {"name": "ptsB"}, "mark": {"type": "point", "filled": true, "size": 70, "opacity": 1, "shape": "circle"},
       "encoding": {"color": {"field": "site", "type": "nominal", "scale": {"domain": ["Lake Hazen","Skeleton Lake","2014","2015","Snowgoose Bay","John's Island","Deep Hole","Pond1"], "range": ["#7b6f64","#a3c852","#2b1d8c","#ffa500","#ad7c42","#4d9cf2","#8c0d7c","#1b8a6b"]}, "legend": null}}},
      {"data": {"name": "labB"}, "mark": {"type": "text", "font": "DejaVu Sans", "fontSize": 11.5, "color": "#1a1a1a"},
       "encoding": {"text": {"field": "label"}}},
      {"data": {"name": "stressB"}, "mark": {"type": "text", "font": "Liberation Sans", "fontSize": 14, "align": "left", "color": "#111111"},
       "encoding": {"text": {"field": "label"}}}
    ]
  },
  {
    "width": 110, "height": 150.6, "view": {"stroke": null},
    "data": {"name": "legend"},
    "layer": [
      {"transform": [{"filter": "datum.role == 'title' && datum.label != 'Sediment depth'"}],
       "mark": {"type": "text", "align": "left", "baseline": "middle", "font": "DejaVu Sans", "fontSize": 18.6, "color": "#000000"},
       "encoding": {"x": {"datum": 0.241, "type": "quantitative", "scale": {"domain": [2.240, 5.488], "nice": false, "zero": false}, "axis": null}, "y": {"field": "row", "type": "quantitative", "scale": {"domain": [-2.405, 2.077], "reverse": true, "nice": false, "zero": false}, "axis": null}, "text": {"field": "label"}}},
      {"transform": [{"filter": "datum.label == 'Sediment depth'"}],
       "mark": {"type": "text", "align": "left", "baseline": "middle", "font": "DejaVu Sans", "fontSize": 18.6, "color": "#000000"},
       "encoding": {"x": {"datum": 0.241, "type": "quantitative", "scale": {"domain": [2.240, 5.488], "nice": false, "zero": false}, "axis": null}, "y": {"datum": -2.604, "type": "quantitative", "scale": {"domain": [-2.405, 2.077], "reverse": true, "nice": false, "zero": false}, "axis": null}, "text": {"field": "label"}}},
      {"transform": [{"filter": "datum.label == 'Sediment depth'"}],
       "mark": {"type": "rule", "color": "#000000", "strokeWidth": 2.5},
       "encoding": {"x": {"datum": 0.882, "type": "quantitative", "scale": {"domain": [2.240, 5.488], "nice": false, "zero": false}, "axis": null}, "x2": {"datum": 4.05}, "y": {"datum": -1.932, "type": "quantitative", "scale": {"domain": [-2.405, 2.077], "reverse": true, "nice": false, "zero": false}, "axis": null}}},
      {"transform": [{"filter": "datum.label == 'Sediment depth'"}],
       "mark": {"type": "point", "shape": "triangle-right", "filled": true, "size": 110, "color": "#000000", "opacity": 1},
       "encoding": {"x": {"datum": 4.073, "type": "quantitative", "scale": {"domain": [2.240, 5.488], "nice": false, "zero": false}, "axis": null}, "y": {"datum": -1.932, "type": "quantitative", "scale": {"domain": [-2.405, 2.077], "reverse": true, "nice": false, "zero": false}, "axis": null}}},
      {"transform": [{"filter": "datum.role == 'bar'"}],
       "mark": {"type": "rule", "strokeWidth": 3.2},
       "encoding": {"x": {"field": "slot", "type": "quantitative", "scale": {"domain": [2.240, 5.488], "nice": false, "zero": false}, "axis": null}, "y": {"datum": -1.545, "type": "quantitative", "scale": {"domain": [-2.405, 2.077], "reverse": true, "nice": false, "zero": false}, "axis": null}, "y2": {"datum": -0.815}, "stroke": {"field": "level", "type": "quantitative", "scale": {"domain": [0, 10], "range": ["#f0f0f0", "#141414"], "interpolate": "rgb"}, "legend": null}}},
      {"transform": [{"filter": "datum.role == 'entry'"}],
       "mark": {"type": "rule", "strokeWidth": 2.5},
       "encoding": {"x": {"datum": 0.309, "type": "quantitative", "scale": {"domain": [2.240, 5.488], "nice": false, "zero": false}, "axis": null}, "x2": {"datum": 1.097}, "y": {"field": "row", "type": "quantitative", "scale": {"domain": [-2.405, 2.077], "reverse": true, "nice": false, "zero": false}, "axis": null}, "color": {"field": "key", "type": "nominal", "scale": {"domain": ["Lake Hazen","Skeleton Lake","2014","2015","Snowgoose Bay","John's Island","Deep Hole","Pond1"], "range": ["#7b6f64","#a3c852","#2b1d8c","#ffa500","#ad7c42","#4d9cf2","#8c0d7c","#1b8a6b"]}, "legend": null}, "strokeDash": {"field": "kind", "type": "nominal", "scale": {"domain": ["lake","year","site"], "range": [[1,0],[2,2.5],[6,4]]}, "legend": null}}},
      {"transform": [{"filter": "datum.role == 'entry'"}],
       "mark": {"type": "text", "align": "left", "baseline": "middle", "font": "DejaVu Sans", "fontSize": 14.3, "color": "#1a1a1a"},
       "encoding": {"x": {"datum": 1.295, "type": "quantitative", "scale": {"domain": [2.240, 5.488], "nice": false, "zero": false}, "axis": null}, "y": {"field": "row", "type": "quantitative", "scale": {"domain": [-2.405, 2.077], "reverse": true, "nice": false, "zero": false}, "axis": null}, "text": {"field": "label"}}}
    ]
  },
  {"width": 1, "height": 95, "view": {"stroke": null}, "data": {"values": [{"spacer": 1}]}, "mark": {"type": "point", "opacity": 0}, "encoding": {}},
  {"width": 1, "height": 1, "view": {"stroke": null}, "data": {"values": [{"spacer": 1}]}, "mark": {"type": "point", "opacity": 0}, "encoding": {}},
  {
    "width": 340, "height": 181,
    "title": {"text": "C", "dx": -45, "offset": 27.6},
    "encoding": {
      "x": {"field": "x", "type": "quantitative", "scale": {"domain": [-0.0736, 0.2364], "nice": false, "zero": false}, "axis": {"title": "NMDS1", "values": [0, 0.1, 0.2], "format": ".1f"}},
      "y": {"field": "y", "type": "quantitative", "scale": {"domain": [-0.0727, 0.0918], "nice": false, "zero": false}, "axis": {"title": "NMDS2", "values": [-0.04, 0, 0.04, 0.08], "format": ".2f", "labelExpr": "replace(datum.label, '−', '-')"}}
    },
    "layer": [
      {"data": {"name": "contC"}, "mark": {"type": "line", "interpolate": "cardinal", "strokeWidth": 1.05},
       "encoding": {"stroke": {"field": "level", "type": "quantitative", "scale": {"domain": [0, 10], "range": ["#f0f0f0", "#141414"], "interpolate": "rgb"}, "legend": null}, "detail": {"field": "curve"}, "order": {"value": null}}},
      {"data": {"name": "ellC"}, "mark": {"type": "line", "interpolate": "cardinal-closed", "strokeWidth": 1.6},
       "encoding": {"color": {"field": "grp", "type": "nominal", "scale": {"domain": ["Lake Hazen","Skeleton Lake","2014","2015","Snowgoose Bay","John's Island","Deep Hole","Pond1"], "range": ["#7b6f64","#a3c852","#2b1d8c","#ffa500","#ad7c42","#4d9cf2","#8c0d7c","#1b8a6b"]}, "legend": null}, "strokeDash": {"field": "kind", "type": "nominal", "scale": {"domain": ["lake","year","site"], "range": [[1,0],[2,2.5],[6,4]]}, "legend": null}, "detail": {"field": "grp"}, "order": {"value": null}}},
      {"data": {"name": "arrC"}, "mark": {"type": "line", "color": "#111111", "strokeWidth": 1.2},
       "encoding": {"detail": [{"field": "vec"}, {"field": "part"}], "order": {"value": null}}},
      {"data": {"name": "ptsC"}, "mark": {"type": "point", "filled": true, "size": 62, "opacity": 1, "shape": "circle"},
       "encoding": {"color": {"field": "site", "type": "nominal", "scale": {"domain": ["Lake Hazen","Skeleton Lake","2014","2015","Snowgoose Bay","John's Island","Deep Hole","Pond1"], "range": ["#7b6f64","#a3c852","#2b1d8c","#ffa500","#ad7c42","#4d9cf2","#8c0d7c","#1b8a6b"]}, "legend": null}}},
      {"data": {"name": "labC"}, "mark": {"type": "text", "font": "DejaVu Sans", "fontSize": 11.5, "color": "#1a1a1a"},
       "encoding": {"text": {"field": "label"}}},
      {"data": {"name": "stressC"}, "mark": {"type": "text", "font": "Liberation Sans", "fontSize": 14, "align": "right", "color": "#111111"},
       "encoding": {"text": {"field": "label"}}}
    ]
  },
  {"width": 1, "height": 1, "view": {"stroke": null}, "data": {"values": [{"spacer": 1}]}, "mark": {"type": "point", "opacity": 0}, "encoding": {}},
  {
    "width": 417.5, "height": 240, "view": {"stroke": null},
    "data": {"name": "caption"},
    "layer": [
      {"transform": [{"filter": "datum.slot == 'main'"}],
       "mark": {"type": "text", "align": "left", "baseline": "middle", "font": "Liberation Sans", "fontSize": 18.3, "color": "#3a3a3a"},
       "encoding": {"x": {"datum": 29, "type": "quantitative", "scale": {"domain": [88.5, 506], "nice": false, "zero": false}, "axis": null}, "y": {"field": "line", "type": "quantitative", "scale": {"domain": [-2.961, 6.341], "reverse": true, "nice": false, "zero": false}, "axis": null}, "text": {"field": "text"}}},
      {"transform": [{"filter": "datum.slot == 'fig' || datum.slot == 'B'"}],
       "mark": {"type": "text", "align": "left", "baseline": "middle", "font": "Liberation Sans", "fontSize": 18.3, "fontWeight": "bold", "color": "#1a1a1a"},
       "encoding": {"x": {"datum": 29, "type": "quantitative", "scale": {"domain": [88.5, 506], "nice": false, "zero": false}, "axis": null}, "y": {"field": "line", "type": "quantitative", "scale": {"domain": [-2.961, 6.341], "reverse": true, "nice": false, "zero": false}, "axis": null}, "text": {"field": "text"}}},
      {"transform": [{"filter": "datum.slot == 'afterFig'"}],
       "mark": {"type": "text", "align": "left", "baseline": "middle", "font": "Liberation Sans", "fontSize": 18.3, "color": "#3a3a3a"},
       "encoding": {"x": {"datum": 128.7, "type": "quantitative", "scale": {"domain": [88.5, 506], "nice": false, "zero": false}, "axis": null}, "y": {"field": "line", "type": "quantitative", "scale": {"domain": [-2.961, 6.341], "reverse": true, "nice": false, "zero": false}, "axis": null}, "text": {"field": "text"}}},
      {"transform": [{"filter": "datum.slot == 'A'"}],
       "mark": {"type": "text", "align": "left", "baseline": "middle", "font": "Liberation Sans", "fontSize": 18.3, "fontWeight": "bold", "color": "#1a1a1a"},
       "encoding": {"x": {"datum": 257.9, "type": "quantitative", "scale": {"domain": [88.5, 506], "nice": false, "zero": false}, "axis": null}, "y": {"field": "line", "type": "quantitative", "scale": {"domain": [-2.961, 6.341], "reverse": true, "nice": false, "zero": false}, "axis": null}, "text": {"field": "text"}}},
      {"transform": [{"filter": "datum.slot == 'afterA'"}],
       "mark": {"type": "text", "align": "left", "baseline": "middle", "font": "Liberation Sans", "fontSize": 18.3, "color": "#3a3a3a"},
       "encoding": {"x": {"datum": 288.4, "type": "quantitative", "scale": {"domain": [88.5, 506], "nice": false, "zero": false}, "axis": null}, "y": {"field": "line", "type": "quantitative", "scale": {"domain": [-2.961, 6.341], "reverse": true, "nice": false, "zero": false}, "axis": null}, "text": {"field": "text"}}},
      {"transform": [{"filter": "datum.slot == 'afterB'"}],
       "mark": {"type": "text", "align": "left", "baseline": "middle", "font": "Liberation Sans", "fontSize": 18.3, "color": "#3a3a3a"},
       "encoding": {"x": {"datum": 59.5, "type": "quantitative", "scale": {"domain": [88.5, 506], "nice": false, "zero": false}, "axis": null}, "y": {"field": "line", "type": "quantitative", "scale": {"domain": [-2.961, 6.341], "reverse": true, "nice": false, "zero": false}, "axis": null}, "text": {"field": "text"}}},
      {"transform": [{"filter": "datum.slot == 'C'"}],
       "mark": {"type": "text", "align": "left", "baseline": "middle", "font": "Liberation Sans", "fontSize": 18.3, "fontWeight": "bold", "color": "#1a1a1a"},
       "encoding": {"x": {"datum": 363.6, "type": "quantitative", "scale": {"domain": [88.5, 506], "nice": false, "zero": false}, "axis": null}, "y": {"field": "line", "type": "quantitative", "scale": {"domain": [-2.961, 6.341], "reverse": true, "nice": false, "zero": false}, "axis": null}, "text": {"field": "text"}}},
      {"transform": [{"filter": "datum.slot == 'afterC'"}],
       "mark": {"type": "text", "align": "left", "baseline": "middle", "font": "Liberation Sans", "fontSize": 18.3, "color": "#3a3a3a"},
       "encoding": {"x": {"datum": 394.1, "type": "quantitative", "scale": {"domain": [88.5, 506], "nice": false, "zero": false}, "axis": null}, "y": {"field": "line", "type": "quantitative", "scale": {"domain": [-2.961, 6.341], "reverse": true, "nice": false, "zero": false}, "axis": null}, "text": {"field": "text"}}}
    ]
  },
  {"width": 1, "height": 1, "view": {"stroke": null}, "data": {"values": [{"spacer": 1}]}, "mark": {"type": "point", "opacity": 0}, "encoding": {}}
]
}
